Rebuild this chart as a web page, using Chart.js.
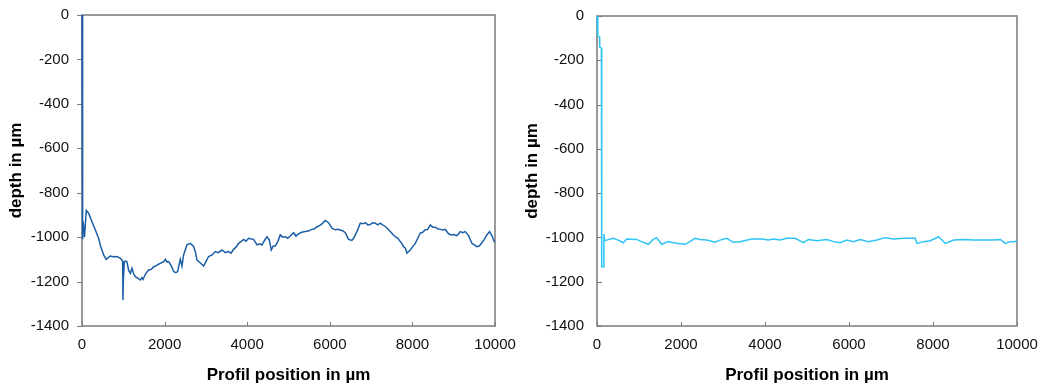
<!DOCTYPE html>
<html>
<head>
<meta charset="utf-8">
<script src="https://cdn.jsdelivr.net/npm/chart.js@4/dist/chart.umd.min.js"></script>
<style>
  body { margin: 0; background: #fff; }
  .box { position: absolute; top: 0; height: 387px; }
  #leftBox { left: 0; width: 520px; }
  #rightBox { left: 520px; width: 523px; }
</style>
</head>
<body>
<div id="leftBox" class="box"><canvas id="leftChart" width="520" height="387"></canvas></div>
<div id="rightBox" class="box"><canvas id="rightChart" width="523" height="387"></canvas></div>
<script>
// profile positions / depths (µm)
const leftX = [
  0, 10, 20, 27, 60, 104, 160, 240, 321, 402,
  442, 523, 588, 684, 760, 846, 930, 968, 985, 992,
  1000, 1024, 1060, 1089, 1130, 1170, 1210, 1250, 1291, 1350,
  1412, 1450, 1477, 1540, 1614, 1680, 1735, 1800, 1850, 1897,
  1977, 2017, 2060, 2098, 2160, 2219, 2270, 2316, 2350, 2380,
  2420, 2460, 2541, 2622, 2703, 2750, 2784, 2860, 2945, 3000,
  3066, 3150, 3228, 3300, 3389, 3470, 3550, 3610, 3671, 3730,
  3792, 3850, 3913, 3970, 4034, 4100, 4155, 4236, 4300, 4357,
  4420, 4478, 4534, 4583, 4630, 4680, 4740, 4801, 4860, 4922,
  4980, 5043, 5124, 5180, 5245, 5320, 5406, 5480, 5567, 5630,
  5689, 5750, 5810, 5890, 5971, 6052, 6133, 6200, 6254, 6320,
  6375, 6455, 6536, 6576, 6657, 6738, 6800, 6859, 6920, 6980,
  7040, 7101, 7160, 7222, 7280, 7343, 7400, 7464, 7530, 7585,
  7650, 7706, 7750, 7787, 7830, 7867, 7948, 8000, 8069, 8130,
  8190, 8250, 8311, 8370, 8432, 8490, 8553, 8610, 8674, 8740,
  8795, 8875, 8940, 8997, 9077, 9120, 9158, 9220, 9279, 9360,
  9440, 9500, 9561, 9620, 9682, 9740, 9803, 9868, 9924, 9980,
  10000
];
const leftDepth = [
  0, -1010, -960, -930, -1000, -880, -892, -930, -967, -1005,
  -1035, -1080, -1100, -1085, -1088, -1087, -1095, -1103, -1110, -1283,
  -1200, -1110, -1108, -1112, -1150, -1163, -1140, -1165, -1178, -1185,
  -1193, -1182, -1190, -1165, -1148, -1145, -1133, -1128, -1122, -1118,
  -1110, -1100, -1112, -1110, -1128, -1155, -1160, -1155, -1125, -1100,
  -1130, -1080, -1035, -1028, -1042, -1070, -1103, -1115, -1130, -1110,
  -1087, -1080, -1065, -1070, -1058, -1070, -1065, -1072, -1055, -1045,
  -1028, -1020, -1010, -1018, -1005, -1008, -1010, -1035, -1030, -1035,
  -1015, -998, -1012, -1058, -1040, -1040, -1020, -990, -1000, -998,
  -1005, -995, -980, -995, -985, -978, -975, -972, -965, -962,
  -953, -948, -940, -925, -935, -960, -967, -965, -968, -972,
  -980, -1010, -1015, -1005, -975, -937, -940, -935, -945, -943,
  -935, -937, -945, -937, -945, -952, -962, -975, -988, -998,
  -1005, -1020, -1030, -1043, -1050, -1072, -1058, -1045, -1028, -1005,
  -982, -978, -967, -965, -945, -955, -955, -962, -965, -968,
  -965, -985, -990, -988, -993, -985, -975, -980, -975, -993,
  -1028, -1035, -1043, -1040, -1025, -1010, -990, -975, -993, -1020,
  -1022
];

const rightX = [0, 17, 20, 60, 64, 105, 112, 160, 165, 183, 229, 387, 506, 626, 705, 943, 1062, 1221, 1340, 1420, 1539, 1698, 1817, 1936, 2095, 2214, 2333, 2452, 2611, 2810, 2929, 3088, 3247, 3406, 3684, 3922, 4081, 4200, 4359, 4518, 4717, 4915, 5034, 5233, 5471, 5630, 5789, 5948, 6107, 6266, 6465, 6663, 6862, 7060, 7299, 7577, 7617, 7776, 7935, 8134, 8293, 8491, 8730, 8968, 9246, 9405, 9604, 9723, 9842, 9921, 10000];
const rightDepth = [0, -50, -90, -95, -140, -145, -1132, -1132, -985, -1016, -1012, -1004, -1012, -1024, -1007, -1009, -1019, -1031, -1009, -1001, -1031, -1019, -1024, -1027, -1031, -1019, -1004, -1009, -1012, -1022, -1012, -1004, -1022, -1019, -1007, -1007, -1012, -1007, -1012, -1004, -1004, -1024, -1009, -1015, -1009, -1019, -1024, -1012, -1019, -1009, -1019, -1012, -1001, -1007, -1004, -1004, -1027, -1019, -1015, -997, -1027, -1012, -1009, -1012, -1012, -1012, -1009, -1027, -1019, -1019, -1016];

const xTitle = "Profil position in µm";
const yTitle = "depth in µm";

// grey frame round the plot area plus the small tick marks
const framePlugin = {
  id: "frame",
  beforeDatasetsDraw(chart, args, opts) {
    const { ctx, chartArea: a, scales } = chart;
    ctx.save();
    ctx.strokeStyle = "#7a7a7a";
    ctx.lineWidth = 1.5;
    ctx.strokeRect(a.left, a.top, a.right - a.left, a.bottom - a.top);
    ctx.lineWidth = 1;
    scales.x.ticks.forEach(t => {
      const px = Math.round(scales.x.getPixelForValue(t.value)) + 0.5;
      ctx.beginPath();
      ctx.moveTo(px, a.bottom);
      ctx.lineTo(px, a.bottom - 4);
      ctx.stroke();
    });
    const dir = opts.yInside ? 5 : -5;
    scales.y.ticks.forEach(t => {
      const py = Math.round(scales.y.getPixelForValue(t.value)) + 0.5;
      ctx.beginPath();
      ctx.moveTo(a.left, py);
      ctx.lineTo(a.left + dir, py);
      ctx.stroke();
    });
    ctx.restore();
  }
};

function createChart(canvasId, xs, ys, color, pad, yWidth, yTitlePad, yInside) {
  const font = "'Liberation Sans', Arial, sans-serif";
  return new Chart(document.getElementById(canvasId), {
    type: "line",
    data: {
      datasets: [{
        data: xs.map((x, i) => ({ x, y: ys[i] })),
        borderColor: color,
        borderWidth: 1.5,
        pointRadius: 0,
        tension: 0,
        clip: 3,
      }],
    },
    options: {
      responsive: false,
      animation: false,
      layout: { padding: pad },
      plugins: { legend: { display: false }, tooltip: { enabled: false }, frame: { yInside } },
      scales: {
        x: {
          type: "linear",
          min: 0,
          max: 10000,
          afterFit: s => { s.height = 61; },
          ticks: { stepSize: 2000, color: "#111", padding: 2, font: { family: font, size: 15 }, callback: v => String(v) },
          grid: { drawOnChartArea: false, drawTicks: true, tickLength: 8, tickColor: "rgba(0,0,0,0)" },
          border: { display: false },
          title: { display: true, text: xTitle, color: "#000", padding: { top: 0, bottom: 1 }, font: { family: font, size: 17, weight: "bold" } },
        },
        y: {
          min: -1400,
          max: 0,
          afterFit: s => { s.width = yWidth; },
          ticks: { stepSize: 200, color: "#111", padding: 2, font: { family: font, size: 15 }, callback: v => String(v) },
          grid: { drawOnChartArea: false, drawTicks: true, tickLength: 11, tickColor: "rgba(0,0,0,0)" },
          border: { display: false },
          title: { display: true, text: yTitle, color: "#000", padding: { top: yTitlePad, bottom: 0 }, font: { family: font, size: 17, weight: "bold" } },
        },
      },
    },
    plugins: [framePlugin],
  });
}

createChart("leftChart", leftX, leftDepth, "#1b5ea6", { top: 15, right: 25, left: 0, bottom: 0 }, 82, 6, false);
createChart("rightChart", rightX, rightDepth, "#2ec4f5", { top: 16, right: 26, left: 0, bottom: 0 }, 77, 2, true);
</script>
</body>
</html>
